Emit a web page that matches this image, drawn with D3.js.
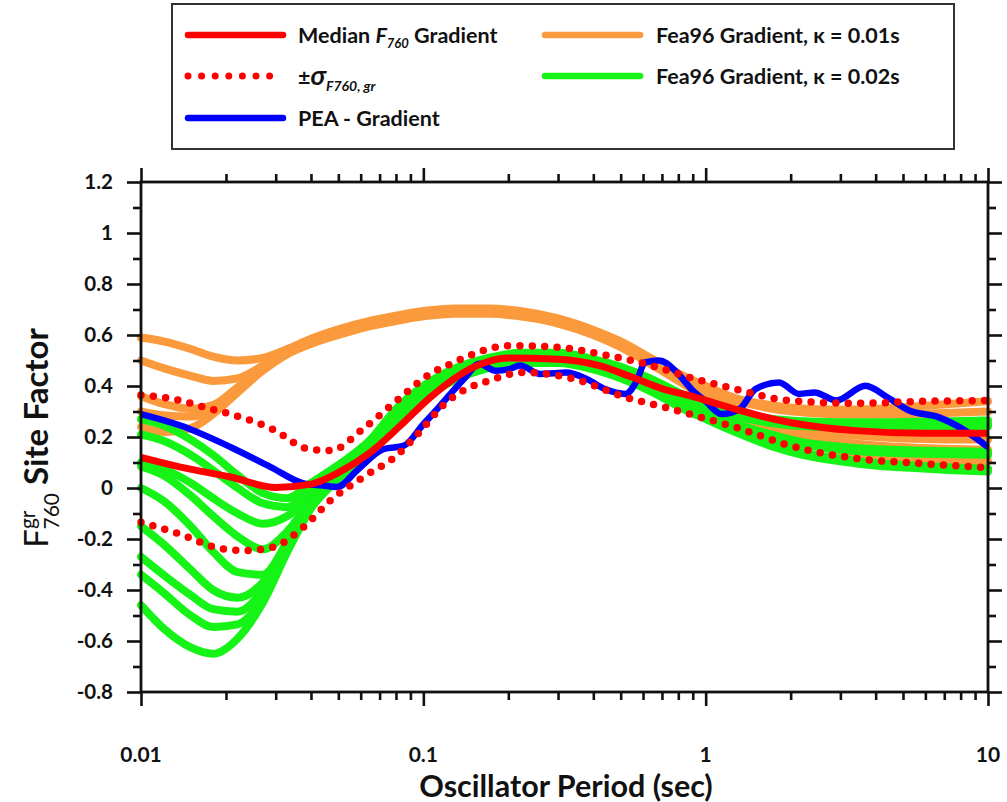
<!DOCTYPE html>
<html>
<head>
<meta charset="utf-8">
<script src="https://cdn.jsdelivr.net/npm/d3@7"></script>
<style>
  body { margin: 0; background: #fff; }
  svg { display: block; }
  text { font-family: Lato, "Open Sans", sans-serif; font-weight: 700; fill: #111; }
</style>
</head>
<body>
<svg id="chart" width="1007" height="802"></svg>
<script>
// ---- Data ---------------------------------------------------------------
// Periods (s) shared by the Fea96 gradient model curves
const feaPeriods = [0.01, 0.012, 0.015, 0.018, 0.022, 0.027, 0.033, 0.04, 0.05, 0.065, 0.08, 0.1, 0.13, 0.17, 0.22, 0.3, 0.4, 0.5, 0.65, 0.8, 1, 1.3, 1.7, 2.2, 3, 4, 5.5, 7.5, 10];

// Fea96 gradient, kappa = 0.01 s
const fea01 = [
  [0.59, 0.575, 0.545, 0.515, 0.50, 0.51, 0.545, 0.585, 0.622, 0.656, 0.676, 0.694, 0.704, 0.704, 0.694, 0.665, 0.62, 0.575, 0.505, 0.45, 0.40, 0.35, 0.325, 0.312, 0.307, 0.31, 0.32, 0.33, 0.34],
  [0.50, 0.47, 0.44, 0.42, 0.43, 0.48, 0.54, 0.58, 0.616, 0.65, 0.67, 0.688, 0.698, 0.698, 0.688, 0.66, 0.615, 0.57, 0.50, 0.445, 0.395, 0.342, 0.312, 0.297, 0.288, 0.287, 0.29, 0.295, 0.30],
  [0.36, 0.33, 0.31, 0.325, 0.395, 0.47, 0.535, 0.575, 0.61, 0.645, 0.665, 0.683, 0.693, 0.693, 0.683, 0.655, 0.61, 0.563, 0.49, 0.43, 0.37, 0.31, 0.265, 0.235, 0.212, 0.20, 0.193, 0.19, 0.19],
  [0.30, 0.285, 0.28, 0.31, 0.385, 0.465, 0.53, 0.57, 0.605, 0.64, 0.66, 0.678, 0.688, 0.688, 0.678, 0.65, 0.605, 0.557, 0.485, 0.425, 0.362, 0.295, 0.245, 0.21, 0.183, 0.167, 0.158, 0.153, 0.15],
  [0.24, 0.22, 0.235, 0.29, 0.375, 0.46, 0.525, 0.565, 0.60, 0.635, 0.655, 0.673, 0.683, 0.683, 0.673, 0.645, 0.60, 0.552, 0.48, 0.42, 0.355, 0.285, 0.225, 0.18, 0.145, 0.125, 0.113, 0.108, 0.105]
];

// Fea96 gradient, kappa = 0.02 s
const fea02 = [
  [0.27, 0.245, 0.19, 0.13, 0.05, -0.02, -0.04, 0.02, 0.09, 0.19, 0.31, 0.40, 0.47, 0.51, 0.53, 0.53, 0.505, 0.475, 0.425, 0.375, 0.33, 0.295, 0.272, 0.262, 0.258, 0.258, 0.26, 0.262, 0.265],
  [0.21, 0.185, 0.13, 0.07, 0.0, -0.06, -0.075, 0.0, 0.08, 0.18, 0.30, 0.39, 0.462, 0.505, 0.525, 0.525, 0.50, 0.47, 0.42, 0.37, 0.325, 0.29, 0.265, 0.253, 0.248, 0.247, 0.248, 0.25, 0.252],
  [0.10, 0.075, 0.02, -0.04, -0.10, -0.14, -0.11, -0.03, 0.07, 0.17, 0.29, 0.38, 0.455, 0.50, 0.52, 0.52, 0.495, 0.465, 0.415, 0.365, 0.318, 0.28, 0.255, 0.243, 0.238, 0.237, 0.238, 0.24, 0.242],
  [0.085, 0.05, -0.03, -0.11, -0.19, -0.24, -0.17, -0.05, 0.06, 0.16, 0.285, 0.375, 0.45, 0.495, 0.515, 0.515, 0.49, 0.46, 0.405, 0.35, 0.30, 0.25, 0.21, 0.18, 0.162, 0.152, 0.147, 0.144, 0.142],
  [0.0, -0.05, -0.15, -0.25, -0.33, -0.34, -0.21, -0.06, 0.055, 0.155, 0.28, 0.37, 0.445, 0.49, 0.51, 0.51, 0.485, 0.455, 0.40, 0.345, 0.295, 0.245, 0.205, 0.175, 0.155, 0.145, 0.14, 0.137, 0.135],
  [-0.15, -0.22, -0.32, -0.40, -0.43, -0.37, -0.22, -0.065, 0.05, 0.15, 0.275, 0.365, 0.44, 0.485, 0.505, 0.505, 0.48, 0.45, 0.395, 0.34, 0.29, 0.24, 0.20, 0.17, 0.15, 0.14, 0.135, 0.132, 0.13],
  [-0.27, -0.34, -0.42, -0.475, -0.485, -0.40, -0.23, -0.07, 0.045, 0.145, 0.27, 0.36, 0.435, 0.48, 0.50, 0.50, 0.475, 0.44, 0.385, 0.33, 0.28, 0.225, 0.175, 0.14, 0.115, 0.098, 0.088, 0.08, 0.075],
  [-0.34, -0.41, -0.50, -0.545, -0.535, -0.43, -0.24, -0.075, 0.04, 0.14, 0.265, 0.355, 0.43, 0.475, 0.495, 0.495, 0.47, 0.435, 0.38, 0.325, 0.275, 0.22, 0.17, 0.135, 0.11, 0.093, 0.083, 0.076, 0.07],
  [-0.46, -0.55, -0.625, -0.65, -0.59, -0.45, -0.25, -0.08, 0.035, 0.135, 0.26, 0.35, 0.425, 0.47, 0.49, 0.49, 0.465, 0.43, 0.375, 0.32, 0.27, 0.215, 0.165, 0.13, 0.105, 0.088, 0.078, 0.07, 0.065]
];

// Median F760 gradient
const medianPeriods = [0.01, 0.0138, 0.0208, 0.03, 0.04, 0.05, 0.065, 0.083, 0.106, 0.15, 0.2, 0.3, 0.42, 0.55, 0.7, 0.877, 1.1, 1.32, 1.97, 3.4, 6, 10];
const medianValues  = [0.12, 0.082, 0.043, 0.002, 0.015, 0.06, 0.14, 0.245, 0.356, 0.473, 0.51, 0.505, 0.48, 0.434, 0.39, 0.362, 0.33, 0.304, 0.258, 0.225, 0.215, 0.215];

// Median + sigma
const upperPeriods = [0.01, 0.0138, 0.0167, 0.0202, 0.0296, 0.0388, 0.0469, 0.0613, 0.0806, 0.106, 0.125, 0.203, 0.306, 0.42, 0.61, 0.877, 1.34, 1.97, 3.4, 5.83, 10];
const upperValues  = [0.365, 0.343, 0.317, 0.293, 0.228, 0.154, 0.147, 0.233, 0.343, 0.448, 0.487, 0.558, 0.551, 0.526, 0.487, 0.434, 0.382, 0.343, 0.332, 0.34, 0.343];

// Median - sigma
const lowerPeriods = [0.01, 0.0135, 0.0197, 0.0238, 0.0295, 0.0377, 0.0469, 0.0613, 0.082, 0.098, 0.119, 0.143, 0.17, 0.226, 0.34, 0.52, 0.72, 1.0, 1.32, 1.97, 3.4, 5.83, 10];
const lowerValues  = [-0.134, -0.178, -0.24, -0.245, -0.231, -0.153, -0.049, 0.043, 0.135, 0.225, 0.33, 0.39, 0.42, 0.453, 0.428, 0.356, 0.316, 0.272, 0.233, 0.167, 0.116, 0.096, 0.08];

// PEA gradient
const peaPeriods = [0.01, 0.0138, 0.0208, 0.0288, 0.0377, 0.044, 0.0496, 0.0582, 0.0725, 0.085, 0.1, 0.11, 0.125, 0.14, 0.158, 0.18, 0.2, 0.22, 0.26, 0.29, 0.32, 0.38, 0.44, 0.52, 0.57, 0.61, 0.685, 0.78, 0.9, 1.0, 1.14, 1.32, 1.5, 1.82, 2.14, 2.43, 2.9, 3.68, 4.4, 5.26, 6.7, 8.3, 10];
const peaValues  = [0.29, 0.245, 0.16, 0.082, 0.018, 0.01, 0.004, 0.069, 0.153, 0.165, 0.25, 0.3, 0.37, 0.43, 0.487, 0.46, 0.465, 0.48, 0.447, 0.45, 0.453, 0.427, 0.388, 0.369, 0.42, 0.493, 0.5, 0.46, 0.382, 0.34, 0.29, 0.31, 0.388, 0.414, 0.369, 0.375, 0.343, 0.401, 0.356, 0.304, 0.277, 0.225, 0.16];

// Axis ticks
const xMajorTicks = [0.01, 0.1, 1, 10];
const xTickLabels = ["0.01", "0.1", "1", "10"];
const yMajorTicks = [-0.8, -0.6, -0.4, -0.2, 0, 0.2, 0.4, 0.6, 0.8, 1, 1.2];
const yTickLabels = ["-0.8", "-0.6", "-0.4", "-0.2", "0", "0.2", "0.4", "0.6", "0.8", "1", "1.2"];

// ---- Chart --------------------------------------------------------------
const COLORS = { median: "#ff0000", pea: "#0000ff", k01: "#fb9a3c", k02: "#16f316" };

const svg = d3.select("#chart");
const x = d3.scaleLog().domain([0.01, 10]).range([141, 988]);
const y = d3.scaleLinear().domain([-0.8, 1.2]).range([692, 182]);

const xMinor = [];
[0.01, 0.1, 1].forEach(d => { for (let k = 2; k <= 9; k++) xMinor.push(+(d * k).toPrecision(3)); });
const yMinor = d3.range(-0.7, 1.2, 0.2).map(v => +v.toFixed(2));

const line = d3.line().x(d => x(d[0])).y(d => y(d[1])).curve(d3.curveMonotoneX);
const zip = (ps, vs) => ps.map((p, i) => [p, vs[i]]);

const plot = svg.append("g");

plot.selectAll("path.k01").data(fea01).join("path")
  .attr("class", "k01").attr("d", v => line(zip(feaPeriods, v)))
  .attr("fill", "none").attr("stroke", COLORS.k01).attr("stroke-width", 8).attr("stroke-linecap", "round");

plot.selectAll("path.k02").data(fea02).join("path")
  .attr("class", "k02").attr("d", v => line(zip(feaPeriods, v)))
  .attr("fill", "none").attr("stroke", COLORS.k02).attr("stroke-width", 8).attr("stroke-linecap", "round");

plot.append("path").attr("d", line(zip(peaPeriods, peaValues)))
  .attr("fill", "none").attr("stroke", COLORS.pea).attr("stroke-width", 6.5).attr("stroke-linejoin", "round");

plot.append("path").attr("d", line(zip(medianPeriods, medianValues)))
  .attr("fill", "none").attr("stroke", COLORS.median).attr("stroke-width", 7);

[[upperPeriods, upperValues], [lowerPeriods, lowerValues]].forEach(([p, v]) => {
  plot.append("path").attr("d", line(zip(p, v)))
    .attr("fill", "none").attr("stroke", COLORS.median).attr("stroke-width", 7.5)
    .attr("stroke-linecap", "round").attr("stroke-dasharray", "0 12.4");
});

// ---- Axes (frame with outward ticks on all sides) ----
function styleAxis(g) {
  g.select(".domain").remove();
  g.selectAll("line").attr("stroke", "#111").attr("stroke-width", 2.6);
}
const axes = svg.append("g");
axes.append("g").attr("transform", "translate(0,692)")
  .call(d3.axisBottom(x).tickValues(xMajorTicks).tickSize(14).tickFormat(""))
  .call(styleAxis);
axes.append("g").attr("transform", "translate(0,692)")
  .call(d3.axisBottom(x).tickValues(xMinor).tickSize(8).tickFormat(""))
  .call(styleAxis);
axes.append("g").attr("transform", "translate(0,182)")
  .call(d3.axisTop(x).tickValues(xMajorTicks).tickSize(14).tickFormat(""))
  .call(styleAxis);
axes.append("g").attr("transform", "translate(0,182)")
  .call(d3.axisTop(x).tickValues(xMinor).tickSize(8).tickFormat(""))
  .call(styleAxis);
axes.append("g").attr("transform", "translate(141,0)")
  .call(d3.axisLeft(y).tickValues(yMajorTicks).tickSize(14).tickFormat(""))
  .call(styleAxis);
axes.append("g").attr("transform", "translate(141,0)")
  .call(d3.axisLeft(y).tickValues(yMinor).tickSize(8).tickFormat(""))
  .call(styleAxis);
axes.append("g").attr("transform", "translate(988,0)")
  .call(d3.axisRight(y).tickValues(yMajorTicks).tickSize(14).tickFormat(""))
  .call(styleAxis);
axes.append("g").attr("transform", "translate(988,0)")
  .call(d3.axisRight(y).tickValues(yMinor).tickSize(8).tickFormat(""))
  .call(styleAxis);
axes.append("rect").attr("x", 141).attr("y", 182).attr("width", 847).attr("height", 510)
  .attr("fill", "none").attr("stroke", "#111").attr("stroke-width", 2.8);

// Tick labels
axes.selectAll("text.ylab").data(yMajorTicks).join("text")
  .attr("class", "ylab").attr("x", 113).attr("y", d => y(d) + 7)
  .attr("text-anchor", "end").attr("font-size", 20.5).text((d, i) => yTickLabels[i]);
axes.selectAll("text.xlab").data(xMajorTicks).join("text")
  .attr("class", "xlab").attr("x", d => x(d)).attr("y", 762)
  .attr("text-anchor", "middle").attr("font-size", 21).text((d, i) => xTickLabels[i]);

// Axis titles
svg.append("text").attr("x", 566).attr("y", 797).attr("text-anchor", "middle")
  .attr("font-size", 30.5).text("Oscillator Period (sec)");

const yt = svg.append("text").attr("transform", "translate(48,438) rotate(-90)")
  .attr("text-anchor", "middle").attr("font-size", 33);
yt.append("tspan").attr("font-weight", 400).text("F");
yt.append("tspan").attr("font-weight", 400).attr("font-size", 21).attr("dy", -13).text("gr");
yt.append("tspan").attr("font-weight", 400).attr("font-size", 21).attr("dx", -19).attr("dy", 24).text("760");
yt.append("tspan").attr("dy", -11).text(" Site Factor");

// ---- Legend ----
const lg = svg.append("g");
lg.append("rect").attr("x", 172).attr("y", 4).attr("width", 782).attr("height", 145)
  .attr("fill", "#fff").attr("stroke", "#333").attr("stroke-width", 2);

const legendItems = [
  { x: 188, y: 35, color: COLORS.median, dotted: false },
  { x: 188, y: 76, color: COLORS.median, dotted: true },
  { x: 188, y: 118, color: COLORS.pea, dotted: false },
  { x: 545, y: 35, color: COLORS.k01, dotted: false },
  { x: 545, y: 76, color: COLORS.k02, dotted: false }
];
legendItems.forEach(it => {
  lg.append("line").attr("x1", it.x).attr("x2", it.x + 95).attr("y1", it.y).attr("y2", it.y)
    .attr("stroke", it.color).attr("stroke-width", it.dotted ? 7 : 6.5).attr("stroke-linecap", "round")
    .attr("stroke-dasharray", it.dotted ? "0 13.6" : null);
});

const t1 = lg.append("text").attr("x", 298).attr("y", 43).attr("font-size", 21.5);
t1.append("tspan").text("Median ");
t1.append("tspan").attr("font-style", "italic").text("F");
t1.append("tspan").attr("font-style", "italic").attr("font-size", 13).attr("dy", 5).text("760");
t1.append("tspan").attr("dy", -5).text(" Gradient");

const t2 = lg.append("text").attr("x", 298).attr("y", 85).attr("font-size", 21.5);
t2.append("tspan").text("±");
t2.append("tspan").attr("font-style", "italic").attr("font-size", 27).text("σ");
t2.append("tspan").attr("font-style", "italic").attr("font-size", 14).attr("dy", 6).text("F760, gr");

lg.append("text").attr("x", 298).attr("y", 126).attr("font-size", 21.5).text("PEA - Gradient");
lg.append("text").attr("x", 656).attr("y", 43).attr("font-size", 21.5).text("Fea96 Gradient, κ = 0.01s");
lg.append("text").attr("x", 656).attr("y", 84).attr("font-size", 21.5).text("Fea96 Gradient, κ = 0.02s");
</script>
</body>
</html>
